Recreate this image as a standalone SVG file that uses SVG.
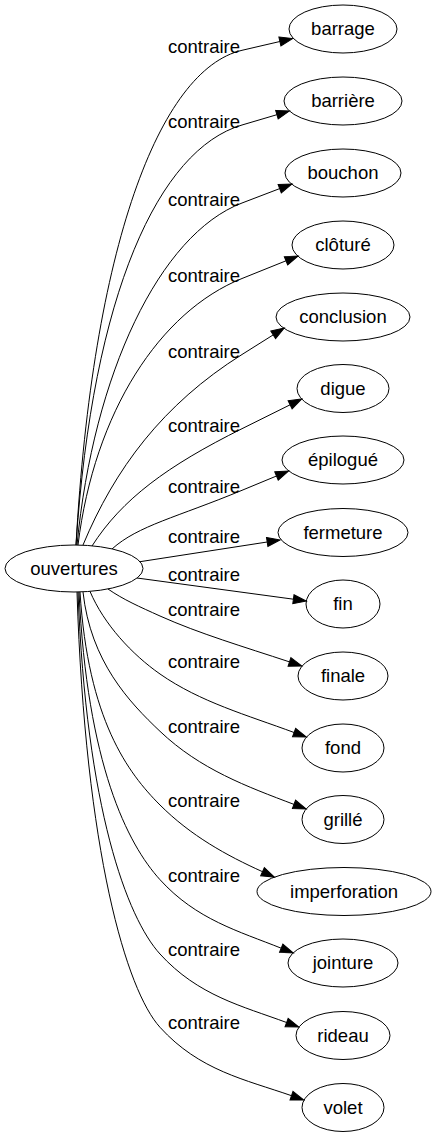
<svg xmlns="http://www.w3.org/2000/svg" width="434" height="1139" viewBox="0 0 434 1139">
<style>
.n ellipse{fill:none;stroke:#000;stroke-width:1}
.n text{font-family:"Liberation Sans",Arial,sans-serif;font-size:18.5px;text-anchor:middle;fill:#000}
#edges path{fill:none;stroke:#000;stroke-width:1;marker-end:url(#ah)}
#edges text{font-family:"Liberation Sans",Arial,sans-serif;font-size:18.5px;text-anchor:middle;fill:#000}
</style>
<defs>
<marker id="ah" markerUnits="userSpaceOnUse" markerWidth="14" markerHeight="10" refX="0" refY="4.5" orient="auto" overflow="visible">
<path d="M0,0 L13,4.5 L0,9 z" fill="#000" stroke="#000" stroke-width="1"/>
</marker>
</defs>
<rect width="434" height="1139" fill="#fff"/>
<g id="edges">
<path d="M76,545 C92.6,248.2 159,69.7 242,50.3 L279.9,41.5"/>
<path d="M76,545 C92.6,293 159,149.5 242,125 L276.9,114.7"/>
<path d="M77,545 C93.5,374 159.5,234.4 242,203 L279.7,188.6"/>
<path d="M78,545 C94.4,411.7 160,311.4 242,278.5 L286,260.8"/>
<path d="M83,545 C114.8,468.8 162.5,404.5 242,354.5 L273.2,334.9"/>
<path d="M92,546 C122,499.1 167,466 242,428.7 L290.1,404.8"/>
<path d="M112,549 C138,525.5 177,517.3 242,490.3 L276.5,476"/>
<path d="M140,561.7 L267.2,542"/>
<path d="M137,578 L293.4,599.2"/>
<path d="M108,589 C123.6,599.8 139.2,606.6 160,616 C198.9,633.5 244.2,646.9 289.5,661.9"/>
<path d="M90,591.4 C104,624.4 132,654.4 160,674 C200.2,702.1 247.2,715.1 294.1,732.5"/>
<path d="M83,592 C90.7,661.7 129.2,702.1 160,731.3 C200.2,769.5 247.1,786.6 294,804.4"/>
<path d="M80,592 C88,719.8 128,773 160,805 C190.75,835.75 226.6,855.5 262.5,871.7"/>
<path d="M79,592 C87.1,764.6 127.6,844.1 160,879.7 C196.4,919.7 238.8,931.2 281.2,948.2"/>
<path d="M78,592 C86.2,809 127.2,917.9 160,954 C198,995.8 242.3,1006.1 286.6,1022.5"/>
<path d="M77,592 C85.3,853 126.8,990.8 160,1027.3 C199.5,1070.8 245.5,1079.6 291.5,1095.7"/>
<text x="204" y="53.3">contraire</text>
<text x="204" y="128">contraire</text>
<text x="204" y="206">contraire</text>
<text x="204" y="281.5">contraire</text>
<text x="204" y="357.5">contraire</text>
<text x="204" y="431.7">contraire</text>
<text x="204" y="493.3">contraire</text>
<text x="204" y="543.3">contraire</text>
<text x="204" y="580.5">contraire</text>
<text x="204" y="616">contraire</text>
<text x="204" y="668">contraire</text>
<text x="204" y="733.3">contraire</text>
<text x="204" y="807">contraire</text>
<text x="204" y="881.7">contraire</text>
<text x="204" y="956">contraire</text>
<text x="204" y="1029.3">contraire</text>
</g>
<g id="n0" class="n"><ellipse cx="74" cy="568.5" rx="69" ry="23.5"/><text x="74" y="574.5">ouvertures</text></g>
<g id="n1" class="n"><ellipse cx="343" cy="29" rx="54" ry="24"/><text x="343" y="35.3">barrage</text></g>
<g id="n2" class="n"><ellipse cx="343" cy="101" rx="59" ry="24"/><text x="343" y="107.3">barrière</text></g>
<g id="n3" class="n"><ellipse cx="343" cy="173" rx="58" ry="24"/><text x="343" y="179.3">bouchon</text></g>
<g id="n4" class="n"><ellipse cx="343" cy="245" rx="51" ry="24"/><text x="343" y="251.3">clôturé</text></g>
<g id="n5" class="n"><ellipse cx="343" cy="317" rx="67" ry="24"/><text x="343" y="323.3">conclusion</text></g>
<g id="n6" class="n"><ellipse cx="343" cy="388.5" rx="46" ry="24"/><text x="343" y="394.8">digue</text></g>
<g id="n7" class="n"><ellipse cx="343" cy="460" rx="61" ry="24"/><text x="343" y="466.3">épilogué</text></g>
<g id="n8" class="n"><ellipse cx="343" cy="532.5" rx="65" ry="24"/><text x="343" y="538.8">fermeture</text></g>
<g id="n9" class="n"><ellipse cx="343" cy="604" rx="37" ry="24"/><text x="343" y="610.3">fin</text></g>
<g id="n10" class="n"><ellipse cx="343" cy="676" rx="45" ry="24"/><text x="343" y="682.3">finale</text></g>
<g id="n11" class="n"><ellipse cx="343" cy="748" rx="41" ry="24"/><text x="343" y="754.3">fond</text></g>
<g id="n12" class="n"><ellipse cx="343" cy="819.5" rx="41" ry="24"/><text x="343" y="825.8">grillé</text></g>
<g id="n13" class="n"><ellipse cx="344" cy="891.5" rx="87" ry="24"/><text x="344" y="897.8">imperforation</text></g>
<g id="n14" class="n"><ellipse cx="343" cy="963" rx="55" ry="24"/><text x="343" y="969.3">jointure</text></g>
<g id="n15" class="n"><ellipse cx="343" cy="1035.5" rx="47" ry="24"/><text x="343" y="1041.8">rideau</text></g>
<g id="n16" class="n"><ellipse cx="343" cy="1107.5" rx="41" ry="24"/><text x="343" y="1113.8">volet</text></g>
</svg>
